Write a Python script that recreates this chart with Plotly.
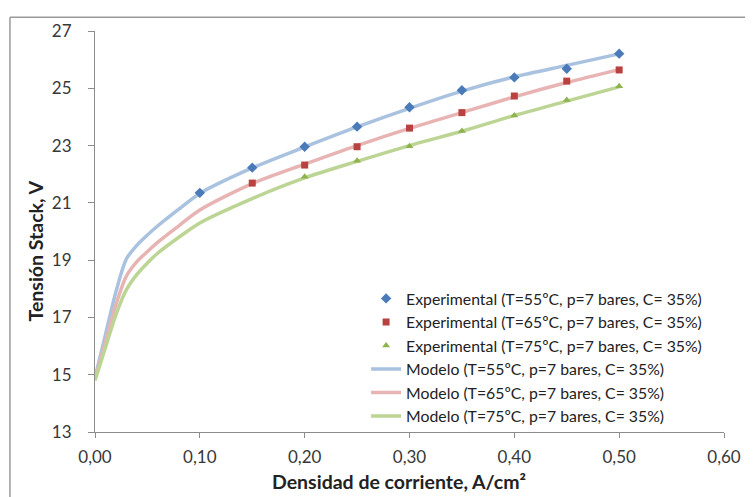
import plotly.graph_objects as go

# Experimental data
x_exp_55 = [0.10, 0.15, 0.20, 0.25, 0.30, 0.35, 0.40, 0.45, 0.50]
y_exp_55 = [21.35, 22.23, 22.96, 23.66, 24.34, 24.93, 25.38, 25.68, 26.21]
x_exp_65 = [0.15, 0.20, 0.25, 0.30, 0.35, 0.40, 0.45, 0.50]
y_exp_65 = [21.69, 22.32, 22.96, 23.61, 24.15, 24.73, 25.25, 25.64]
x_exp_75 = [0.20, 0.25, 0.30, 0.35, 0.40, 0.45, 0.50]
y_exp_75 = [21.91, 22.47, 22.98, 23.51, 24.05, 24.59, 25.07]

# Model curves
x_mod = [0.0, 0.01, 0.02, 0.03, 0.04, 0.05, 0.06, 0.08, 0.10, 0.15, 0.20, 0.25, 0.30, 0.35, 0.40, 0.45, 0.50]
y_mod_55 = [14.9, 16.4, 17.9, 19.05, 19.52, 19.88, 20.2, 20.78, 21.33, 22.22, 22.95, 23.65, 24.3, 24.9, 25.4, 25.8, 26.2]
y_mod_65 = [14.85, 16.15, 17.45, 18.45, 18.95, 19.3, 19.63, 20.2, 20.75, 21.67, 22.35, 23.0, 23.6, 24.15, 24.7, 25.2, 25.65]
y_mod_75 = [14.8, 15.95, 17.1, 17.97, 18.5, 18.9, 19.25, 19.8, 20.3, 21.15, 21.87, 22.45, 23.0, 23.5, 24.05, 24.55, 25.05]

x_ticks = [0.0, 0.1, 0.2, 0.3, 0.4, 0.5, 0.6]
y_ticks = [13, 15, 17, 19, 21, 23, 25, 27]

labels_exp = ["Experimental (T=55ºC, p=7 bares, C= 35%)",
              "Experimental (T=65ºC, p=7 bares, C= 35%)",
              "Experimental (T=75ºC, p=7 bares, C= 35%)"]
labels_mod = ["Modelo (T=55ºC, p=7 bares, C= 35%)",
              "Modelo (T=65ºC, p=7 bares, C= 35%)",
              "Modelo (T=75ºC, p=7 bares, C= 35%)"]
x_title = "Densidad de corriente, A/cm²"
y_title = "Tensión Stack, V"

fig = go.Figure()

line_colors = ["#a9c2e0", "#e8b4b3", "#bcd595"]
for y, c, name in zip([y_mod_55, y_mod_65, y_mod_75], line_colors, labels_mod):
    fig.add_trace(go.Scatter(x=x_mod, y=y, mode="lines", name=name,
                             line=dict(color=c, width=3.5, shape="spline", smoothing=0.8),
                             legendrank=2))

marker_colors = ["#4a7ab8", "#b8423f", "#8fb14e"]
symbols = ["diamond", "square", "triangle-up"]
sizes = [8, 7, 7]
for xs, ys, c, s, sz, name in zip([x_exp_55, x_exp_65, x_exp_75],
                                  [y_exp_55, y_exp_65, y_exp_75],
                                  marker_colors, symbols, sizes, labels_exp):
    fig.add_trace(go.Scatter(x=xs, y=ys, mode="markers", name=name,
                             marker=dict(color=c, symbol=s, size=sz),
                             legendrank=1))

font_family = "Lato, 'Open Sans', sans-serif"

fig.update_layout(
    width=745, height=489,
    margin=dict(l=87, r=22, t=14, b=65),
    paper_bgcolor="white", plot_bgcolor="white",
    separators=", ",
    font=dict(family=font_family, size=17, color="#383838"),
    showlegend=True,
    legend=dict(x=0.431, y=0.375, xanchor="left", yanchor="top",
                bgcolor="rgba(255,255,255,0)", font=dict(size=15.8, color="#222222"),
                tracegroupgap=0, itemwidth=30, traceorder="normal"),
    xaxis=dict(range=[0, 0.6], tickvals=x_ticks, tickformat=".2f",
               showgrid=False, zeroline=False, showline=True, linecolor="#8c8c8c", linewidth=1.2,
               ticks="outside", ticklen=5, tickcolor="#8c8c8c", ticklabelstandoff=4,
               tickfont=dict(size=17, color="#383838")),
    yaxis=dict(range=[13, 27], tickvals=y_ticks,
               showgrid=False, zeroline=False, showline=True, linecolor="#8c8c8c", linewidth=1.2,
               ticks="outside", ticklen=6, tickcolor="#8c8c8c", ticklabelstandoff=13,
               tickfont=dict(size=17, color="#383838")),
)

fig.add_annotation(text="<b>" + x_title + "</b>", xref="paper", yref="paper",
                   x=0.484, y=-0.124, xanchor="center", yanchor="middle", showarrow=False,
                   font=dict(size=19.5, color="#222222"))
fig.add_annotation(text="<b>" + y_title + "</b>", xref="paper", yref="paper",
                   x=-0.0943, y=0.452, xanchor="center", yanchor="middle", showarrow=False,
                   textangle=-90, font=dict(size=19.5, color="#222222"))

# Outer chart border (left and top edges visible)
fig.add_shape(type="line", xref="paper", yref="paper", x0=-0.1352, x1=-0.1352, y0=1.0341, y1=-0.2,
              line=dict(color="#9a9a9a", width=1.5))
fig.add_shape(type="line", xref="paper", yref="paper", x0=-0.1352, x1=1.1, y0=1.0341, y1=1.0341,
              line=dict(color="#9a9a9a", width=1.5))

fig.write_html("out.html")
